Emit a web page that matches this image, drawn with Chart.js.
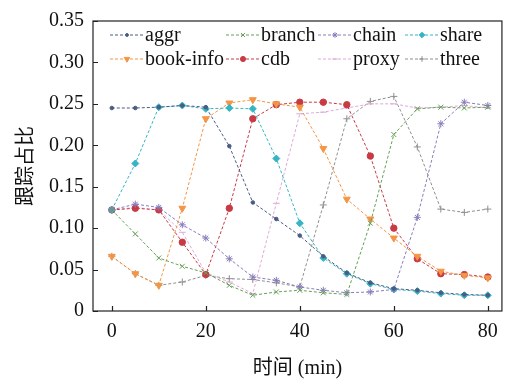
<!DOCTYPE html>
<html>
<head>
<meta charset="utf-8">
<script src="https://cdn.jsdelivr.net/npm/chart.js@4.4.0/dist/chart.umd.min.js"></script>
<style>
  html, body { margin: 0; padding: 0; background: #fff; }
  #wrap { width: 507px; height: 381px; }
</style>
</head>
<body>
<div id="wrap"><canvas id="grafico" width="507" height="381"></canvas></div>
<script>
// dados (minutos / fração de traces)
const tempos = [0, 5, 10, 15, 20, 25, 30, 35, 40, 45, 50, 55, 60, 65, 70, 75, 80];
const xTicks = [0, 20, 40, 60, 80];
const yTicks = [0, 0.05, 0.10, 0.15, 0.20, 0.25, 0.30, 0.35];
const nomes = ['aggr', 'branch', 'chain', 'share', 'book-info', 'cdb', 'proxy', 'three'];

const aggr     = [0.245, 0.245, 0.246, 0.248, 0.246, 0.199, 0.131, 0.111, 0.091, 0.066, 0.046, 0.034, 0.027, 0.025, 0.022, 0.020, 0.019];
const branch   = [0.122, 0.093, 0.064, 0.054, 0.046, 0.031, 0.019, 0.023, 0.025, 0.022, 0.020, 0.106, 0.213, 0.244, 0.246, 0.245, 0.246];
const chain    = [0.122, 0.129, 0.125, 0.104, 0.088, 0.063, 0.041, 0.037, 0.029, 0.025, 0.022, 0.023, 0.026, 0.113, 0.226, 0.252, 0.248];
const share    = [0.122, 0.178, 0.246, 0.248, 0.244, 0.245, 0.244, 0.184, 0.106, 0.064, 0.045, 0.033, 0.026, 0.024, 0.021, 0.019, 0.019];
const bookInfo = [0.066, 0.045, 0.031, 0.124, 0.232, 0.251, 0.255, 0.250, 0.246, 0.196, 0.135, 0.111, 0.088, 0.066, 0.048, 0.043, 0.040];
const cdb      = [0.122, 0.124, 0.122, 0.083, 0.044, 0.124, 0.232, 0.249, 0.252, 0.252, 0.249, 0.187, 0.100, 0.063, 0.045, 0.044, 0.041];
const proxy    = [0.122, 0.125, 0.122, 0.095, 0.046, 0.035, 0.021, 0.130, 0.238, 0.240, 0.245, 0.250, 0.250, 0.245, 0.246, 0.248, 0.245];
const three    = [0.066, 0.045, 0.031, 0.035, 0.043, 0.039, 0.038, 0.034, 0.029, 0.128, 0.232, 0.253, 0.259, 0.198, 0.123, 0.119, 0.123];

const series = [aggr, branch, chain, share, bookInfo, cdb, proxy, three];
const cores = ['#4a5b85', '#64a055', '#8a7cbc', '#35b5c4', '#f39545', '#c83a44', '#dcaad8', '#8f8f8f'];
const marcadores = ['circle', 'crossRot', 'star', 'rectRot', 'triangle', 'circle', 'line', 'cross'];
const raios = [1.8, 3.5, 3.5, 3.5, 4, 3.2, 3.5, 3.5];
const rotacoes = [0, 0, 0, 0, 180, 0, 0, 0];

const fonte = '"Liberation Serif", "Noto Sans CJK SC", serif';

// legenda desenhada à mão: traço tracejado + marcador, 4 colunas x 2 linhas
const legendaPlugin = {
  id: 'legendaTracejada',
  afterDatasetsDraw(chart) {
    const ctx = chart.ctx;
    const colX = [110, 226, 318, 405];
    const linY = [35, 59];
    chart.data.datasets.forEach((ds, i) => {
      const x0 = colX[i % 4];
      const y = linY[Math.floor(i / 4)];
      ctx.save();
      ctx.strokeStyle = ds.borderColor;
      ctx.lineWidth = 1;
      ctx.setLineDash([3, 2]);
      ctx.beginPath();
      ctx.moveTo(x0, y);
      ctx.lineTo(x0 + 33, y);
      ctx.stroke();
      ctx.setLineDash([]);
      ctx.fillStyle = ds.backgroundColor;
      Chart.helpers.drawPoint(ctx, {
        pointStyle: ds.pointStyle, radius: ds.pointRadius * 0.8, rotation: ds.pointRotation, borderWidth: 1
      }, x0 + 17, y);
      ctx.fillStyle = '#111';
      ctx.font = '20px ' + fonte;
      ctx.textBaseline = 'middle';
      ctx.fillText(ds.label, x0 + 35, y + 1);
      ctx.restore();
    });
  }
};

// moldura e ticks para dentro
const molduraPlugin = {
  id: 'moldura',
  afterDraw(chart) {
    const { ctx, chartArea: a, scales } = chart;
    ctx.save();
    ctx.strokeStyle = '#222';
    ctx.lineWidth = 1.2;
    ctx.strokeRect(a.left, a.top, a.right - a.left, a.bottom - a.top);
    ctx.beginPath();
    xTicks.forEach(v => {
      const px = Math.round(scales.x.getPixelForValue(v)) + 0.5;
      ctx.moveTo(px, a.bottom);
      ctx.lineTo(px, a.bottom - 5);
    });
    yTicks.forEach(v => {
      const py = Math.round(scales.y.getPixelForValue(v)) + 0.5;
      ctx.moveTo(a.left, py);
      ctx.lineTo(a.left + 5, py);
    });
    ctx.stroke();
    ctx.restore();
  }
};

function desenhar() {
  new Chart(document.getElementById('grafico'), {
    type: 'line',
    data: {
      datasets: nomes.map((nome, i) => ({
        label: nome,
        data: tempos.map((t, j) => ({ x: t, y: series[i][j] })),
        borderColor: cores[i],
        backgroundColor: cores[i],
        borderWidth: 1,
        borderDash: [3, 2],
        pointStyle: marcadores[i],
        pointRadius: raios[i],
        pointRotation: rotacoes[i],
        pointBorderWidth: 1,
        tension: 0
      }))
    },
    options: {
      responsive: false,
      animation: false,
      layout: { padding: { top: 15, right: 4, left: 11, bottom: 0 } },
      plugins: { legend: { display: false }, tooltip: { enabled: false } },
      scales: {
        x: {
          type: 'linear',
          min: -4,
          max: 83,
          afterBuildTicks: s => { s.ticks = xTicks.map(v => ({ value: v })); },
          afterFit: s => { s.height = 70; },
          grid: { display: false, drawTicks: false },
          border: { display: false },
          ticks: { color: '#111', font: { family: fonte, size: 20 }, padding: 9, maxRotation: 0 },
          title: { display: true, text: '时间 (min)', color: '#111', font: { family: fonte, size: 20 }, padding: { top: 4, bottom: 0 } }
        },
        y: {
          min: 0,
          max: 0.35,
          afterBuildTicks: s => { s.ticks = yTicks.map(v => ({ value: v })); },
          afterFit: s => { s.width = 82; },
          grid: { display: false, drawTicks: false },
          border: { display: false },
          ticks: {
            color: '#111', font: { family: fonte, size: 20 }, padding: 9,
            callback: v => v === 0 ? '0' : v.toFixed(2)
          },
          title: { display: true, text: '跟踪占比', color: '#111', font: { family: fonte, size: 20 }, padding: { bottom: 4 } }
        }
      }
    },
    plugins: [legendaPlugin, molduraPlugin]
  });
}

document.fonts.load('20px "Liberation Serif"').then(desenhar, desenhar);
</script>
</body>
</html>
